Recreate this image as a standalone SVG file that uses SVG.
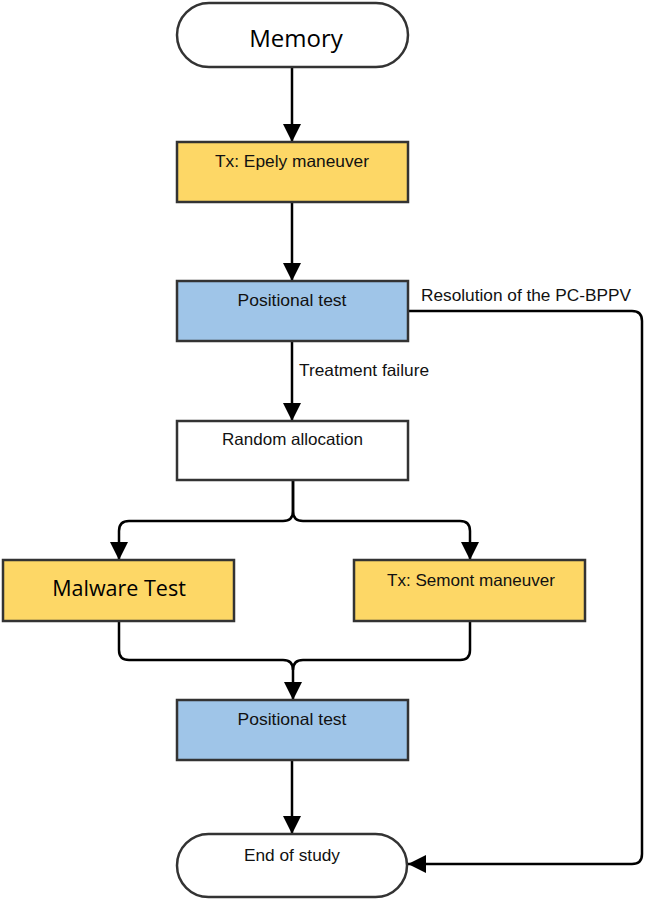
<svg xmlns="http://www.w3.org/2000/svg" width="650" height="900" viewBox="0 0 650 900">
<style>
.box{stroke:#333;stroke-width:2.5}
.yellow{fill:#fdd766}
.blue{fill:#9fc5e8}
.white{fill:#fff}
.t{font-family:"Liberation Sans",Arial,sans-serif;font-size:16.5px;fill:#111;text-anchor:middle}
.big{font-family:"Open Sans","Noto Sans",sans-serif;fill:#000;text-anchor:middle}
.lbl{font-family:"Liberation Sans",Arial,sans-serif;font-size:16.5px;fill:#111}
.c{fill:none;stroke:#000;stroke-width:2.5}
</style>
<defs>
<marker id="ah" viewBox="0 0 18 18" refX="18" refY="9" markerWidth="18" markerHeight="18" markerUnits="userSpaceOnUse" orient="auto">
<path d="M0,0 L18,9 L0,18 Z" fill="#000"/>
</marker>
</defs>
<rect width="650" height="900" fill="#fff"/>
<g id="connectors">
<path class="c" d="M292,67 V142" marker-end="url(#ah)"/>
<path class="c" d="M292,202 V281" marker-end="url(#ah)"/>
<path class="c" d="M292,341 V421" marker-end="url(#ah)"/>
<path class="c" d="M408,311 H632 Q642,311 642,321 V854 Q642,864 632,864 H408" marker-end="url(#ah)"/>
<path class="c" d="M293,480 V511 Q293,521 283,521 H129 Q119,521 119,531 V560" marker-end="url(#ah)"/>
<path class="c" d="M293,480 V511 Q293,521 303,521 H460 Q470,521 470,531 V560" marker-end="url(#ah)"/>
<path class="c" d="M119,621 V650 Q119,660 129,660 H283 Q293,660 293,670 V700" marker-end="url(#ah)"/>
<path class="c" d="M470,621 V650 Q470,660 460,660 H303 Q293,660 293,670"/>
<path class="c" d="M292,760 V834" marker-end="url(#ah)"/>
<text class="lbl" x="421" y="301" textLength="210" lengthAdjust="spacingAndGlyphs">Resolution of the PC-BPPV</text>
<text class="lbl" x="299" y="376" textLength="130" lengthAdjust="spacingAndGlyphs">Treatment failure</text>
</g>
<g id="memory">
<rect class="box white" x="177" y="3" width="231" height="64" rx="32"/>
<text class="big" x="296" y="47" font-size="24">Memory</text>
</g>
<g id="epely">
<rect class="box yellow" x="177" y="142" width="231" height="60"/>
<text class="t" x="292" y="167" textLength="154" lengthAdjust="spacingAndGlyphs">Tx: Epely maneuver</text>
</g>
<g id="positional1">
<rect class="box blue" x="177" y="281" width="231" height="60"/>
<text class="t" x="292" y="306" textLength="109" lengthAdjust="spacingAndGlyphs">Positional test</text>
</g>
<g id="random">
<rect class="box white" x="177" y="421" width="231" height="59"/>
<text class="t" x="292.5" y="445" textLength="141" lengthAdjust="spacingAndGlyphs">Random allocation</text>
</g>
<g id="malware">
<rect class="box yellow" x="3" y="560" width="231" height="61"/>
<text class="big" x="119" y="596" font-size="21.5">Malware Test</text>
</g>
<g id="semont">
<rect class="box yellow" x="354" y="560" width="231" height="61"/>
<text class="t" x="471" y="586" textLength="168" lengthAdjust="spacingAndGlyphs">Tx: Semont maneuver</text>
</g>
<g id="positional2">
<rect class="box blue" x="177" y="700" width="231" height="60"/>
<text class="t" x="292" y="725" textLength="109" lengthAdjust="spacingAndGlyphs">Positional test</text>
</g>
<g id="end">
<rect class="box white" x="177" y="834" width="230" height="63" rx="31.5"/>
<text class="t" x="292" y="861" textLength="96" lengthAdjust="spacingAndGlyphs">End of study</text>
</g>
</svg>
